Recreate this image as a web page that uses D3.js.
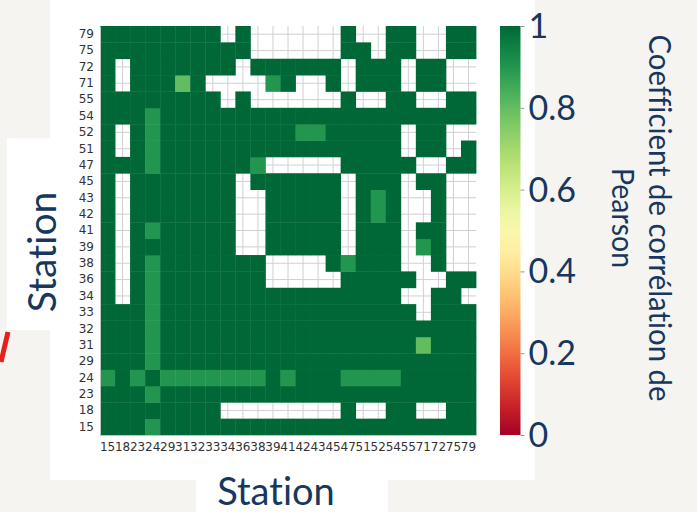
<!DOCTYPE html>
<html>
<head>
<meta charset="utf-8">
<script src="https://cdn.jsdelivr.net/npm/d3@7"></script>
<style>
body{margin:0;background:#f5f4f0}
svg{display:block}
text{font-variant-ligatures:none}
</style>
</head>
<body>
<div id="chart"></div>
<script>
// stations, in axis order (bottom -> top on y, left -> right on x)
const stations=[15,18,23,24,29,31,32,33,34,36,38,39,41,42,43,45,47,51,52,54,55,71,72,75,79]
const _=null   // no value (cell left blank)
// pearson coefficient (rounded), corr[row][col], rows and cols in the order of stations
const corr=[
 [1,1,1,.9,1,1,1,1,1,1,1,1,1,1,1,1,1,1,1,1,1,1,1,1,1],
 [1,1,1,1,1,1,1,1,_,_,_,_,_,_,_,_,1,_,_,1,1,_,_,1,1],
 [1,1,1,.9,1,1,1,1,1,1,1,1,1,1,1,1,1,1,1,1,1,1,1,1,1],
 [.9,1,.9,1,.9,.9,.9,.9,.9,.9,.9,1,.9,1,1,1,.9,.9,.9,.9,1,1,1,1,1],
 [1,1,1,.9,1,1,1,1,1,1,1,1,1,1,1,1,1,1,1,1,1,1,1,1,1],
 [1,1,1,.9,1,1,1,1,1,1,1,1,1,1,1,1,1,1,1,1,1,.8,1,1,1],
 [1,1,1,.9,1,1,1,1,1,1,1,1,1,1,1,1,1,1,1,1,1,1,1,1,1],
 [1,1,1,.9,1,1,1,1,1,1,1,1,1,1,1,1,1,1,1,1,1,_,1,1,1],
 [1,_,1,.9,1,1,1,1,1,1,1,1,1,1,1,1,1,1,1,1,_,_,1,1,_],
 [1,_,1,.9,1,1,1,1,1,1,1,_,_,_,_,_,1,1,1,1,1,_,_,1,1],
 [1,_,1,.9,1,1,1,1,1,1,1,_,_,_,_,1,.9,1,1,1,_,_,1,_,_],
 [1,_,1,1,1,1,1,1,1,_,_,1,1,1,1,1,_,1,1,1,_,.9,1,_,_],
 [1,_,1,.9,1,1,1,1,1,_,_,1,1,1,1,1,_,1,1,1,_,1,1,_,_],
 [1,_,1,1,1,1,1,1,1,_,_,1,1,1,1,1,_,1,.9,1,_,_,1,_,_],
 [1,_,1,1,1,1,1,1,1,_,_,1,1,1,1,1,_,1,.9,1,_,_,1,_,_],
 [1,_,1,1,1,1,1,1,1,_,1,1,1,1,1,1,_,1,1,1,_,1,1,_,_],
 [1,1,1,.9,1,1,1,1,1,1,.9,_,_,_,_,_,1,1,1,1,1,_,_,1,1],
 [1,_,1,.9,1,1,1,1,1,1,1,1,1,1,1,1,1,1,1,1,_,1,1,_,1],
 [1,_,1,.9,1,1,1,1,1,1,1,1,1,.9,.9,1,1,1,1,1,_,1,1,_,_],
 [1,1,1,.9,1,1,1,1,1,1,1,1,1,1,1,1,1,1,1,1,1,1,1,1,1],
 [1,1,1,1,1,1,1,1,_,1,_,_,_,_,_,_,1,_,_,1,1,_,_,1,1],
 [1,_,1,1,1,.8,1,_,_,_,_,.9,1,_,_,1,_,1,1,1,_,1,1,_,_],
 [1,_,1,1,1,1,1,1,1,_,1,1,1,1,1,1,_,1,1,1,_,1,1,_,_],
 [1,1,1,1,1,1,1,1,1,1,_,_,_,_,_,_,1,1,_,1,1,_,_,1,1],
 [1,1,1,1,1,1,1,1,_,1,_,_,_,_,_,_,1,_,_,1,1,_,_,1,1]
]
const cbarTicks=[0,0.2,0.4,0.6,0.8,1]
const cbarTitle=["Coefficient de corrélation de","Pearson"]
const xTitle="Station"
const yTitle="Station"

const W=697,H=512
const navy="#17375e"
let svg=d3.select('#chart').append('svg').attr('width',W).attr('height',H)

// slide background pieces
svg.append('rect').attr('width',W).attr('height',H).attr('fill','#f5f4f0')
svg.append('rect').attr('x',50).attr('y',0).attr('width',485).attr('height',480).attr('fill','#fff')
svg.append('rect').attr('x',7).attr('y',138).attr('width',43).attr('height',192).attr('fill','#fff')
svg.append('rect').attr('x',196).attr('y',480).attr('width',192).attr('height',32).attr('fill','#fff')
svg.append('line').attr('x1',8).attr('y1',332).attr('x2',1).attr('y2',362)
	.attr('stroke','#e3201b').attr('stroke-width',5)

let x=d3.scaleBand().domain(stations).range([100,476])
let y=d3.scaleBand().domain(stations.slice().reverse()).range([26,435])
let color=d3.scaleSequential(d3.interpolateRdYlGn).domain([0,1])

// grid behind the cells, seen where a cell is blank
let grid=svg.append('g').attr('stroke','#d0d0d0').attr('stroke-width',1)
stations.forEach(s=>{
	grid.append('line').attr('x1',x(s)+x.bandwidth()/2).attr('x2',x(s)+x.bandwidth()/2).attr('y1',26).attr('y2',435)
	grid.append('line').attr('y1',y(s)+y.bandwidth()/2).attr('y2',y(s)+y.bandwidth()/2).attr('x1',100).attr('x2',476)
})

let cells=[]
corr.forEach((row,i)=>row.forEach((v,j)=>{
	if(v!==null)cells.push({r:stations[i],c:stations[j],v:v})
}))
svg.append('g').selectAll('rect').data(cells).join('rect')
	.attr('x',d=>x(d.c))
	.attr('y',d=>y(d.r))
	.attr('width',x.bandwidth()+0.4)
	.attr('height',y.bandwidth()+0.4)
	.attr('fill',d=>color(d.v))

// axes
let yaxis=svg.append('g').attr('transform','translate(100,0)')
	.call(d3.axisLeft(y).tickSize(0).tickPadding(6))
let xaxis=svg.append('g').attr('transform','translate(0,435)')
	.call(d3.axisBottom(x).tickSize(0).tickPadding(7))
;[xaxis,yaxis].forEach(a=>{
	a.select('.domain').attr('stroke','#b9c7c7')
	a.selectAll('text').attr('font-family','DejaVu Sans').attr('font-size',12).attr('fill','#333')
})

svg.append('text').attr('x',276).attr('y',505).attr('text-anchor','middle')
	.attr('font-family','Lato').attr('font-size',38).attr('fill',navy).text(xTitle)
svg.append('text').attr('transform','translate(56,252) rotate(-90)').attr('text-anchor','middle')
	.attr('font-family','Lato').attr('font-size',39).attr('fill',navy).text(yTitle)

// colour bar
let grad=svg.append('defs').append('linearGradient').attr('id','cb')
	.attr('x1',0).attr('y1',1).attr('x2',0).attr('y2',0)
d3.range(0,1.0001,0.05).forEach(t=>{
	grad.append('stop').attr('offset',t).attr('stop-color',d3.interpolateRdYlGn(t))
})
svg.append('rect').attr('x',500).attr('y',26).attr('width',20.5).attr('height',409).attr('fill','url(#cb)')
let cy=d3.scaleLinear().domain([0,1]).range([435,26])
let cax=svg.append('g').attr('transform','translate(520.5,0)')
	.call(d3.axisRight(cy).tickValues(cbarTicks).tickSize(4).tickPadding(4).tickFormat(d3.format('~g')))
cax.select('.domain').remove()
cax.selectAll('line').attr('stroke','#999')
cax.selectAll('text').attr('font-family','Lato').attr('font-size',34).attr('fill',navy).attr('dy','0.34em')

let lens=[367,100]
let bases=[649,612]
cbarTitle.forEach((t,i)=>{
	svg.append('text').attr('transform','translate('+bases[i]+',218) rotate(90)')
		.attr('text-anchor','middle').attr('font-family','Lato').attr('font-size',30)
		.attr('fill',navy).attr('textLength',lens[i]).attr('lengthAdjust','spacingAndGlyphs').text(t)
})
</script>
</body>
</html>
